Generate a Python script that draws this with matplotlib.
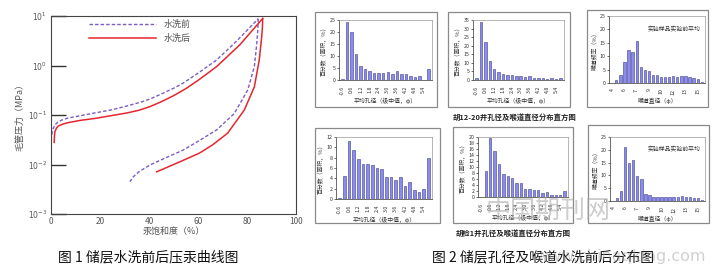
import matplotlib
matplotlib.use("Agg")
import matplotlib.pyplot as plt
from matplotlib.patches import Rectangle

plt.rcParams['font.family'] = ['Noto Sans CJK SC', 'DejaVu Sans']

# --- figure 1: mercury injection curves (saturation %, pressure MPa)
before_in_x = [0.3, 0.8, 1.6, 2.8, 4.4, 7, 11.2, 17, 24.4, 31, 37.3, 40.4, 45, 50.2, 53.9, 60, 67.6, 76, 84.6]
before_in_p = [0.04, 0.052, 0.063, 0.072, 0.079, 0.087, 0.095, 0.108, 0.126, 0.152, 0.186, 0.21, 0.265, 0.35, 0.44, 0.7, 1.29, 3.2, 8.8]
before_out_x = [84.6, 84.5, 84.4, 84.0, 83.0, 80.3, 74.8, 67.6, 60.8, 53.9, 47.0, 40.4, 36.0, 33.5, 32.2]
before_out_p = [8.8, 7.0, 5.2, 2.8, 0.95, 0.32, 0.107, 0.05, 0.031, 0.0195, 0.0138, 0.0098, 0.0072, 0.0056, 0.0045]
after_in_x = [1.3, 1.4, 1.6, 2.2, 3, 5, 7, 12, 17.8, 24, 31, 36, 40.4, 45, 50, 55, 60, 67.6, 77, 86.4]
after_in_p = [0.028, 0.037, 0.046, 0.054, 0.06, 0.066, 0.07, 0.078, 0.085, 0.096, 0.11, 0.125, 0.148, 0.185, 0.245, 0.34, 0.5, 0.95, 2.6, 8.9]
after_out_x = [86.4, 86.3, 86.0, 85.0, 83.0, 78.9, 72.1, 66, 60.6, 52, 43.1]
after_out_p = [8.9, 6.0, 3.8, 1.29, 0.37, 0.126, 0.043, 0.025, 0.017, 0.011, 0.0071]

# --- figure 2: histograms
pore_labels = ["-0.6", "0.6", "1.2", "1.8", "2.4", "3.0", "3.6", "4.2", "4.8", "5.4"]
throat_labels = ["4", "6", "7", "9", "10", "12", "13", "15"]
hu1220_pore_a = [0.5, 24, 20, 10.7, 5.9, 4.4, 3.6, 2.9, 3.0, 2.9, 3.2, 2.3, 3.6, 2.4, 2.6, 1.8, 1.4, 1.8, 0.2, 4.7]
hu1220_pore_b = [1.0, 34, 22, 11, 6.3, 4.8, 3.5, 3.0, 3.0, 2.5, 2.3, 1.8, 2.2, 1.0, 1.0, 0.9, 0.5, 1.0, 0.3, 0.9]
hu1220_throat = [0, 1.0, 3.0, 8.0, 12.3, 11.7, 15.7, 6.0, 5.0, 4.3, 3.1, 2.8, 2.2, 2.4, 2.4, 2.7, 2.4, 2.7, 2.5, 2.4, 1.8, 1.4, 0.2]
hujian1_pore_a = [0.1, 4.4, 11.2, 9.4, 7.8, 6.8, 6.8, 6.6, 6.0, 5.8, 4.2, 4.2, 3.7, 4.2, 2.6, 3.3, 1.8, 1.4, 2.0, 7.9]
hujian1_pore_b = [0, 8.8, 19.6, 15.3, 11, 7.8, 7.0, 6.2, 4.8, 4.6, 2.8, 2.7, 2.2, 2.2, 1.4, 1.6, 0.7, 0.6, 0.7, 2.1]
hujian1_throat = [0, 1.1, 3.9, 21, 14.8, 16.1, 9.6, 8.5, 2.6, 2.5, 1.6, 1.6, 1.4, 1.6, 1.5, 1.4, 1.7, 2.0, 1.7, 1.6, 1.3, 1.2, 0.2]

W, H = 714, 272
fig = plt.figure(figsize=(W / 100, H / 100), dpi=100)


def axes_px(l, t, r, b):
    return fig.add_axes([l / W, 1 - b / H, (r - l) / W, (b - t) / H])


def box_px(l, t, r, b):
    fig.add_artist(Rectangle((l / W, 1 - b / H), (r - l) / W, (b - t) / H,
                             transform=fig.transFigure, fill=False,
                             ec="#8a8a8a", lw=0.9))


# ---------------- left chart
purple = "#7a5cc4"
red = "#e5262e"
dash = (0, (2.5, 1.5))
ax = axes_px(51, 16, 296, 214)
ax.plot(before_in_x, before_in_p, color=purple, lw=1.0, ls=dash, label="水洗前")
ax.plot(before_out_x, before_out_p, color=purple, lw=1.0, ls=dash)
ax.plot(after_in_x, after_in_p, color=red, lw=1.1, label="水洗后")
ax.plot(after_out_x, after_out_p, color=red, lw=1.1)
ax.set_yscale("log")
ax.set_ylim(1e-3, 1e1)
ax.set_xlim(0, 100)
ax.set_yticks([1e-3, 1e-2, 1e-1, 1e0, 1e1])
ax.set_yticklabels([r"$10^{-3}$", r"$10^{-2}$", r"$10^{-1}$", r"$10^{0}$", r"$10^{1}$"])
ax.minorticks_off()
ax.set_xticks([0, 20, 40, 60, 80, 100])
ax.tick_params(axis="y", direction="in", length=11, width=1.0, color="#333",
               labelsize=5.5, labelcolor="#555", pad=3)
ax.tick_params(axis="x", length=0, labelsize=6, labelcolor="#555", pad=2)
for s in ax.spines.values():
    s.set_color("#444")
    s.set_linewidth(0.8)
ax.set_xlabel("汞饱和度（%）", fontsize=6.5, color="#555", labelpad=1)
ax.set_ylabel("毛管压力（MPa）", fontsize=6.5, color="#555", labelpad=2)
ax.legend(loc="upper left", bbox_to_anchor=(0.12, 1.02),
          frameon=False, fontsize=6.5, handlelength=7.5, labelspacing=0.5,
          labelcolor="#555")

# ---------------- right panels
bar_kw = dict(color="#8c8cee", edgecolor="#3b3b8e", linewidth=0.4, width=0.55)


def panel(box, rect, vals, ymax, ystep, labels, lstep, xlabel, ylabel, note=None):
    box_px(*box)
    a = axes_px(*rect)
    idx = list(range(len(vals)))
    a.bar(idx, vals, **bar_kw)
    a.set_xlim(-0.8, len(vals) - 0.2)
    a.set_ylim(0, ymax)
    a.set_yticks(list(range(0, ymax + 1, ystep)))
    a.set_xticks(idx[::lstep][:len(labels)])
    a.set_xticklabels(labels, rotation=90)
    a.tick_params(axis="both", labelsize=3.8, length=1.5, width=0.4, pad=1,
                  labelcolor="#333")
    a.tick_params(axis="x", length=0, pad=4)
    for k in ("top", "right"):
        a.spines[k].set_color("#999")
        a.spines[k].set_linewidth(0.5)
    for k in ("left", "bottom"):
        a.spines[k].set_color("#333")
        a.spines[k].set_linewidth(0.5)
    a.set_xlabel(xlabel, fontsize=4.2, color="#333", labelpad=2)
    a.set_ylabel(ylabel, fontsize=4.2, color="#333", labelpad=2)
    if note:
        a.text(0.95, 0.8, note, transform=a.transAxes, ha="right", va="center",
               fontsize=4.2, color="#333")
    return a


px = "平均孔径（级中值，φ）"
py = "百分数（面积，%）"
tx = "喉道直径（φ）"
ty = "喉道频率（%）"
note = "实验样品实验前平均"

panel((315, 12, 437, 107), (339, 20, 432, 80), hu1220_pore_a, 25, 5, pore_labels, 2, px, py)
panel((448, 12, 570, 107), (473, 20, 564, 80), hu1220_pore_b, 35, 5, pore_labels, 2, px, py)
panel((587, 10, 708, 107), (609, 16, 705, 83), hu1220_throat, 25, 5, throat_labels, 3, tx, ty, note)
panel((315, 128, 440, 223), (336, 137, 432, 199), hujian1_pore_a, 12, 2, pore_labels, 2, px, py)
panel((453, 127, 573, 223), (478, 137, 568, 197), hujian1_pore_b, 20, 2, pore_labels, 2, px, py)
panel((588, 125, 709, 223), (610, 137, 705, 201), hujian1_throat, 25, 5, throat_labels, 3, tx, ty, note)

fig.text(515 / W, 1 - 117 / H, "胡12-20井孔径及喉道直径分布直方图", ha="center", va="center",
         fontsize=5.3, fontweight="bold", color="#222")
fig.text(513 / W, 1 - 233 / H, "胡检1井孔径及喉道直径分布直方图", ha="center", va="center",
         fontsize=5.3, fontweight="bold", color="#222")

# ---------------- captions
fig.text(148 / W, 1 - 257 / H, "图 1 储层水洗前后压汞曲线图", ha="center", va="center",
         fontsize=10, color="#111")
fig.text(543 / W, 1 - 257 / H, "图 2 储层孔径及喉道水洗前后分布图", ha="center", va="center",
         fontsize=10, color="#111")

# watermark
fig.text(548 / W, 1 - 212 / H, "中国期刊网", ha="center", va="center",
         fontsize=18, color="#aaaaaa", alpha=0.6)
fig.text(621 / W, 1 - 257 / H, "www.chinaqking.com", ha="center", va="center",
         fontsize=11.5, color="#999999", alpha=0.45, family="DejaVu Sans")

fig.savefig("out.png", dpi=100, facecolor="white")
